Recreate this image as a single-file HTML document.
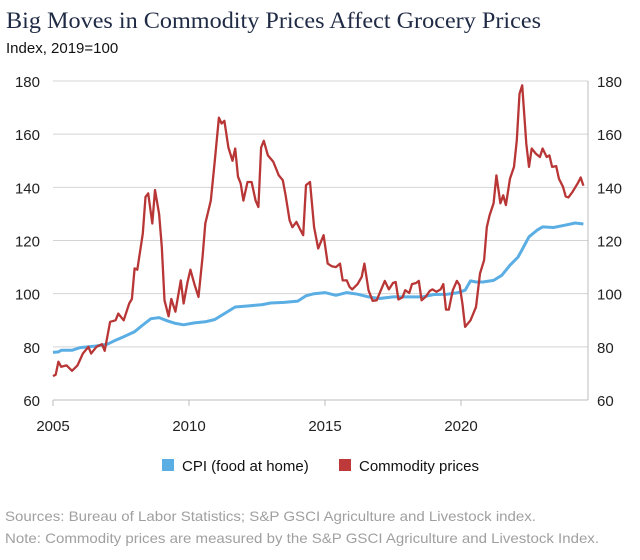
<!DOCTYPE html>
<html><head><meta charset="utf-8"><style>
body{margin:0;background:#fff;width:640px;height:555px;overflow:hidden;font-family:"Liberation Sans",sans-serif}
</style></head><body>
<svg id="chart" width="640" height="555" xmlns="http://www.w3.org/2000/svg">
<text x="6" y="28" font-family="Liberation Serif,serif" font-size="23" fill="#1f2a44" textLength="535" lengthAdjust="spacingAndGlyphs">Big Moves in Commodity Prices Affect Grocery Prices</text>
<text x="6" y="53" font-size="15" fill="#111">Index, 2019=100</text>
<g id="grid"></g><g id="series"></g>
<g>
<rect x="162" y="459" width="12" height="12" fill="#5aaee3"/>
<text x="182" y="471" font-size="15" fill="#111">CPI (food at home)</text>
<rect x="339" y="459" width="12" height="12" fill="#be3a3a"/>
<text x="359" y="471" font-size="15" fill="#111">Commodity prices</text>
</g>
<text x="5" y="521" font-size="14" fill="#a0a0a0" textLength="531" lengthAdjust="spacingAndGlyphs">Sources: Bureau of Labor Statistics; S&amp;P GSCI Agriculture and Livestock index.</text>
<text x="5" y="543" font-size="14" fill="#a0a0a0" textLength="594" lengthAdjust="spacingAndGlyphs">Note: Commodity prices are measured by the S&amp;P GSCI Agriculture and Livestock Index.</text>
</svg>
<script>
const yTicks=[60,80,100,120,140,160,180];
const xTicks=[2005,2010,2015,2020];
const comYears=[2005.0,2005.1,2005.2,2005.3,2005.5,2005.7,2005.9,2006.1,2006.3,2006.4,2006.6,2006.8,2006.9,2007.1,2007.3,2007.4,2007.6,2007.8,2007.9,2008.0,2008.1,2008.3,2008.4,2008.5,2008.65,2008.75,2008.9,2009.0,2009.1,2009.25,2009.35,2009.5,2009.7,2009.8,2009.95,2010.05,2010.2,2010.35,2010.5,2010.6,2010.8,2010.95,2011.1,2011.2,2011.3,2011.45,2011.6,2011.7,2011.8,2011.9,2012.0,2012.15,2012.3,2012.45,2012.55,2012.65,2012.75,2012.9,2013.1,2013.3,2013.45,2013.55,2013.7,2013.8,2013.95,2014.1,2014.2,2014.3,2014.45,2014.6,2014.75,2014.85,2014.95,2015.1,2015.25,2015.4,2015.55,2015.65,2015.8,2015.9,2016.0,2016.2,2016.35,2016.45,2016.6,2016.75,2016.9,2017.0,2017.2,2017.35,2017.5,2017.6,2017.7,2017.85,2017.95,2018.1,2018.2,2018.35,2018.45,2018.55,2018.7,2018.85,2018.95,2019.1,2019.25,2019.35,2019.45,2019.55,2019.7,2019.85,2019.95,2020.05,2020.15,2020.35,2020.55,2020.7,2020.85,2020.95,2021.05,2021.2,2021.3,2021.45,2021.55,2021.65,2021.8,2021.95,2022.05,2022.15,2022.25,2022.4,2022.5,2022.6,2022.75,2022.9,2023.0,2023.15,2023.25,2023.35,2023.5,2023.6,2023.75,2023.85,2023.95,2024.1,2024.3,2024.4,2024.5];
const comValues=[69,69.5,74.4,72.5,73,71,73,77.5,80,77.5,80,81,78.5,89.4,90,92.5,90,96.3,98,109.5,109,122.6,136.4,137.7,126.4,139,130,117.6,97.5,91.5,98,93.2,105,96.3,104.5,109,103.6,98.8,114,126.4,135,150,166.2,164,165,155,150,154.6,144,141.4,135,142,142,135,132.6,155,157.5,152,149.6,144.5,142.7,137,127.6,125,127,123.9,122,140.8,142,125,117,119.5,122,111.3,110.3,110,111.3,105,105,102.6,101.6,103.6,106.3,111.3,101.3,97.3,97.5,100,104.8,101.6,104,104.4,97.8,98.6,101.3,100.3,103.6,104,104.8,97.5,98.8,101,101.6,100.7,101.6,103.6,94,94,101.3,104.8,103.2,96.3,87.5,90,95,107.6,112.6,125,129.5,134,144.5,134,137,133.3,143.3,147.7,157.7,175.2,178.4,156.4,147.7,154.6,152.7,151.4,154.6,151.4,152,147.7,148,143.3,140.2,136.6,136.2,138.3,141.7,143.7,140.6];
const cpiYears=[2005.0,2005.2,2005.3,2005.7,2006.0,2006.5,2007.0,2007.3,2007.6,2008.0,2008.3,2008.6,2008.9,2009.2,2009.5,2009.8,2010.2,2010.6,2010.95,2011.3,2011.7,2012.2,2012.7,2013.0,2013.5,2014.0,2014.3,2014.6,2015.0,2015.4,2015.8,2016.2,2016.6,2017.0,2017.5,2018.0,2018.6,2019.0,2019.5,2019.9,2020.15,2020.35,2020.55,2020.8,2021.2,2021.5,2021.8,2022.1,2022.3,2022.5,2022.8,2023.0,2023.4,2023.8,2024.2,2024.5];
const cpiValues=[77.9,78.1,78.7,78.7,79.7,80.2,81,82.5,83.8,85.7,88.2,90.6,91,89.8,88.8,88.3,89,89.4,90.3,92.5,95,95.4,95.9,96.5,96.7,97.2,99.2,100,100.4,99.4,100.4,99.8,98.8,98.2,98.8,98.8,98.8,99.7,99.8,100.4,101.3,104.8,104.4,104.4,105,106.9,110.7,113.8,117.6,121.4,123.9,125.1,124.9,125.7,126.6,126.2];

const NS='http://www.w3.org/2000/svg';
const X0=53,PXY=27.2,XR=588,Y0=81,YB=400;
function xs(t){return X0+(t-2005)*PXY;}
function ys(v){return Y0+(180-v)*(YB-Y0)/120;}
function mk(tag,attrs,parent){const e=document.createElementNS(NS,tag);for(const k in attrs)e.setAttribute(k,attrs[k]);parent.appendChild(e);return e;}
const grid=document.getElementById('grid');
yTicks.forEach(v=>{
  if(v>60){const l=mk('line',{x1:X0,x2:XR,y1:ys(v),y2:ys(v),stroke:'#d4d4d4','stroke-width':1},grid);
  
  }
  const a=mk('text',{x:40,y:ys(v)+6,'text-anchor':'end','font-size':15,fill:'#222'},grid);a.textContent=v;
  
  
  const b=mk('text',{x:597,y:ys(v)+6,'font-size':15,fill:'#222'},grid);b.textContent=v;
  
  
});
const ax=mk('line',{x1:X0,x2:XR,y1:YB,y2:YB,stroke:'#bdbdbd'},grid);


const ra=mk('line',{x1:XR,x2:XR,y1:Y0,y2:YB,stroke:'#bdbdbd'},grid);


xTicks.forEach(t=>{
  const tk=mk('line',{x1:xs(t),x2:xs(t),y1:YB,y2:YB+6,stroke:'#bdbdbd'},grid);
  
  
  const tx=mk('text',{x:xs(t),y:YB+31,'text-anchor':'middle','font-size':15,fill:'#222'},grid);tx.textContent=t;
  
  
});
const ser=document.getElementById('series');
function path(xsA,vs){return xsA.map((t,i)=>(i?'L':'M')+xs(t).toFixed(1)+','+ys(vs[i]).toFixed(1)).join('');}
const cl=mk('path',{d:path(cpiYears,cpiValues),fill:'none',stroke:'#5aaee3','stroke-width':3,'stroke-linejoin':'round'},ser);


const rl=mk('path',{d:path(comYears,comValues),fill:'none',stroke:'#b83636','stroke-width':2.3,'stroke-linejoin':'round'},ser);


</script>
</body></html>
